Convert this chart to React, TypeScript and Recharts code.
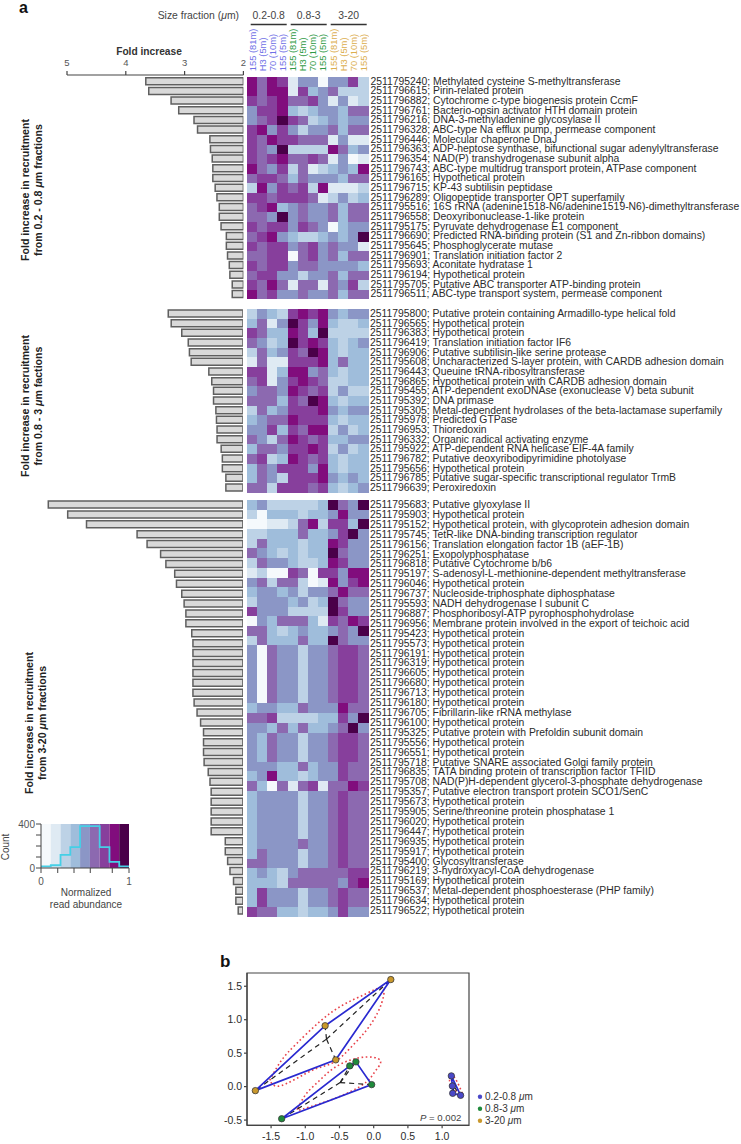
import {
  Bar,
  BarChart,
  Cell,
  ComposedChart,
  Line,
  ReferenceArea,
  Scatter,
  ScatterChart,
  XAxis,
  YAxis,
} from 'recharts'

const PALETTE = ['#f5f9fc', '#dfeaf3', '#bdd2e6', '#9fbddb', '#8b96c6', '#8c69b0', '#873f9c', '#810d7d', '#4a0049']

const SAMPLES = ['155 (81m)', 'H3 (5m)', '70 (10m)', '155 (5m)']
const SAMPLE_COLORS = ['#6f70e6', '#2f9a45', '#dcae4e']

const labelsTop = [
  '2511795240; Methylated cysteine S-methyltransferase',
  '2511796615; Pirin-related protein',
  '2511796882; Cytochrome c-type biogenesis protein CcmF',
  '2511796761; Bacterio-opsin activator HTH domain protein',
  '2511796216; DNA-3-methyladenine glycosylase II',
  '2511796328; ABC-type Na efflux pump, permease component',
  '2511796446; Molecular chaperone DnaJ',
  '2511796363; ADP-heptose synthase, bifunctional sugar adenylyltransferase',
  '2511796354; NAD(P) transhydrogenase subunit alpha',
  '2511796743; ABC-type multidrug transport protein, ATPase component',
  '2511796165; Hypothetical protein',
  '2511796715; KP-43 subtilisin peptidase',
  '2511796289; Oligopeptide transporter OPT superfamily',
  '2511795516; 16S rRNA (adenine1518-N6/adenine1519-N6)-dimethyltransferase',
  '2511796558; Deoxyribonuclease-1-like protein',
  '2511795175; Pyruvate dehydrogenase E1 component',
  '2511796690; Predicted RNA-binding protein (S1 and Zn-ribbon domains)',
  '2511795645; Phosphoglycerate mutase',
  '2511796901; Translation initiation factor 2',
  '2511795693; Aconitate hydratase 1',
  '2511796194; Hypothetical protein',
  '2511795705; Putative ABC transporter ATP-binding protein',
  '2511796511; ABC-type transport system, permease component',
]
const foldTop = [3.66, 3.61, 3.23, 3.1, 2.84, 2.78, 2.57, 2.56, 2.53, 2.52, 2.52, 2.48, 2.45, 2.41, 2.41, 2.38, 2.29, 2.29, 2.27, 2.24, 2.23, 2.19, 2.19]
const heatTop = [
  [7, 5, 7, 6, 1, 4, 4, 0, 4, 4, 6, 2],
  [7, 5, 7, 7, 1, 6, 3, 4, 5, 2, 2, 2],
  [6, 5, 6, 7, 5, 5, 6, 4, 1, 4, 1, 2],
  [4, 6, 6, 7, 3, 2, 3, 4, 4, 3, 5, 5],
  [4, 5, 6, 8, 6, 5, 2, 3, 4, 3, 4, 4],
  [6, 7, 4, 6, 4, 2, 4, 4, 5, 3, 5, 5],
  [6, 5, 7, 6, 6, 5, 5, 5, 1, 4, 1, 1],
  [6, 5, 4, 8, 2, 2, 2, 2, 7, 5, 3, 4],
  [6, 5, 6, 7, 5, 5, 6, 5, 1, 4, 0, 1],
  [7, 5, 4, 6, 2, 5, 1, 2, 3, 4, 3, 7],
  [5, 6, 6, 5, 3, 5, 4, 4, 4, 3, 5, 5],
  [2, 7, 4, 6, 5, 6, 2, 7, 1, 1, 1, 2],
  [6, 6, 5, 6, 6, 6, 5, 1, 2, 4, 2, 3],
  [5, 6, 7, 3, 4, 5, 4, 4, 5, 3, 5, 5],
  [5, 5, 4, 8, 4, 5, 4, 4, 5, 3, 5, 5],
  [6, 5, 6, 6, 4, 6, 5, 4, 0, 3, 4, 4],
  [5, 6, 7, 4, 3, 2, 2, 3, 4, 3, 4, 8],
  [6, 5, 6, 6, 4, 5, 6, 4, 5, 4, 4, 1],
  [5, 5, 6, 6, 0, 5, 6, 4, 5, 3, 5, 5],
  [6, 5, 6, 6, 4, 5, 5, 4, 4, 4, 4, 3],
  [5, 6, 6, 4, 4, 2, 4, 4, 5, 3, 5, 5],
  [6, 5, 7, 5, 1, 5, 5, 1, 5, 4, 6, 2],
  [7, 5, 6, 4, 4, 5, 4, 4, 5, 3, 5, 5],
]

const labelsMiddle = [
  '2511795800; Putative protein containing Armadillo-type helical fold',
  '2511796565; Hypothetical protein',
  '2511796383; Hypothetical protein',
  '2511796419; Translation initiation factor IF6',
  '2511796906; Putative subtilisin-like serine protease',
  '2511795608; Uncharacterized S-layer protein, with CARDB adhesion domain',
  '2511796443; Queuine tRNA-ribosyltransferase',
  '2511796865; Hypothetical protein with CARDB adhesion domain',
  '2511795455; ATP-dependent exoDNAse (exonuclease V) beta subunit',
  '2511795392; DNA primase',
  '2511795305; Metal-dependent hydrolases of the beta-lactamase superfamily',
  '2511795978; Predicted GTPase',
  '2511796953; Thioredoxin',
  '2511796332; Organic radical activating enzyme',
  '2511795922; ATP-dependent RNA helicase EIF-4A family',
  '2511796782; Putative deoxyribodipyrimidine photolyase',
  '2511795656; Hypothetical protein',
  '2511796785; Putative sugar-specific transcriptional regulator TrmB',
  '2511796639; Peroxiredoxin',
]
const foldMiddle = [3.27, 3.22, 3.04, 2.93, 2.91, 2.88, 2.58, 2.53, 2.5, 2.5, 2.46, 2.45, 2.44, 2.44, 2.37, 2.35, 2.35, 2.29, 2.29]
const heatMiddle = [
  [2, 4, 3, 2, 6, 7, 6, 7, 4, 3, 4, 4],
  [3, 5, 1, 4, 8, 6, 4, 7, 3, 2, 2, 3],
  [6, 5, 3, 3, 7, 6, 3, 8, 2, 2, 2, 2],
  [5, 4, 2, 3, 8, 6, 7, 6, 3, 2, 3, 4],
  [2, 5, 3, 4, 6, 5, 8, 7, 3, 2, 3, 3],
  [1, 5, 1, 1, 6, 6, 6, 7, 3, 5, 3, 3],
  [6, 6, 1, 3, 7, 7, 4, 5, 3, 2, 3, 3],
  [5, 6, 1, 4, 6, 7, 6, 5, 2, 2, 3, 3],
  [4, 5, 5, 4, 7, 6, 5, 6, 2, 4, 2, 2],
  [5, 5, 5, 3, 6, 5, 8, 7, 3, 2, 3, 3],
  [2, 5, 3, 4, 6, 6, 6, 7, 4, 3, 4, 4],
  [3, 4, 5, 5, 7, 6, 6, 6, 3, 2, 3, 3],
  [4, 4, 6, 3, 6, 5, 7, 7, 2, 4, 2, 3],
  [5, 4, 2, 5, 7, 6, 5, 6, 3, 3, 4, 4],
  [3, 5, 5, 4, 6, 6, 7, 6, 2, 4, 2, 3],
  [5, 6, 2, 3, 7, 6, 5, 6, 3, 2, 3, 3],
  [3, 5, 4, 6, 6, 6, 4, 7, 3, 2, 3, 3],
  [3, 5, 4, 2, 6, 6, 6, 7, 4, 3, 4, 3],
  [5, 5, 2, 6, 6, 6, 5, 6, 3, 2, 3, 4],
]

const labelsBottom = [
  '2511795683; Putative glyoxylase II',
  '2511795903; Hypothetical protein',
  '2511795152; Hypothetical protein, with glycoprotein adhesion domain',
  '2511795745; TetR-like DNA-binding transcription regulator',
  '2511796156; Translation elongation factor 1B (aEF-1B)',
  '2511796251; Exopolyphosphatase',
  '2511796818; Putative Cytochrome b/b6',
  '2511795197; S-adenosyl-L-methionine-dependent methyltransferase',
  '2511796046; Hypothetical protein',
  '2511796737; Nucleoside-triphosphate diphosphatase',
  '2511795593; NADH dehydrogenase I subunit C',
  '2511796887; Phosphoribosyl-ATP pyrophosphohydrolase',
  '2511796956; Membrane protein involved in the export of teichoic acid',
  '2511795423; Hypothetical protein',
  '2511795573; Hypothetical protein',
  '2511796191; Hypothetical protein',
  '2511796319; Hypothetical protein',
  '2511796605; Hypothetical protein',
  '2511796680; Hypothetical protein',
  '2511796713; Hypothetical protein',
  '2511796180; Hypothetical protein',
  '2511796705; Fibrillarin-like rRNA methylase',
  '2511796100; Hypothetical protein',
  '2511795325; Putative protein with Prefoldin subunit domain',
  '2511795556; Hypothetical protein',
  '2511796551; Hypothetical protein',
  '2511795718; Putative SNARE associated Golgi family protein',
  '2511796835; TATA binding protein of transcription factor TFIID',
  '2511795708; NAD(P)H-dependent glycerol-3-phosphate dehydrogenase',
  '2511795357; Putative electron transport protein SCO1/SenC',
  '2511795673; Hypothetical protein',
  '2511795905; Serine/threonine protein phosphatase 1',
  '2511796020; Hypothetical protein',
  '2511796447; Hypothetical protein',
  '2511796935; Hypothetical protein',
  '2511795917; Hypothetical protein',
  '2511795400; Glycosyltransferase',
  '2511796219; 3-hydroxyacyl-CoA dehydrogenase',
  '2511795169; Hypothetical protein',
  '2511796537; Metal-dependent phosphoesterase (PHP family)',
  '2511796634; Hypothetical protein',
  '2511796522; Hypothetical protein',
]
const foldBottom = [
  5.31, 4.98, 4.66, 3.8, 3.63, 3.4, 3.31, 3.16, 3.13, 3.04, 3.0, 2.97, 2.97, 2.87, 2.85, 2.85, 2.85, 2.85, 2.85, 2.85, 2.83,
  2.78, 2.72, 2.67, 2.67, 2.67, 2.66, 2.59, 2.56, 2.54, 2.54, 2.54, 2.54, 2.54, 2.3, 2.3, 2.26, 2.22, 2.16, 2.12, 2.12, 2.08,
]
const heatBottom = [
  [3, 4, 2, 2, 2, 2, 2, 3, 8, 5, 4, 8],
  [2, 0, 3, 3, 3, 2, 3, 3, 4, 7, 4, 4],
  [0, 0, 1, 1, 2, 5, 7, 2, 6, 6, 3, 8],
  [2, 2, 3, 3, 3, 5, 3, 3, 4, 6, 8, 4],
  [2, 5, 3, 3, 3, 2, 3, 3, 7, 6, 4, 4],
  [5, 4, 3, 2, 3, 2, 3, 3, 8, 5, 4, 4],
  [2, 5, 4, 4, 3, 2, 2, 3, 7, 6, 4, 4],
  [1, 2, 0, 0, 6, 5, 0, 6, 6, 4, 7, 7],
  [4, 5, 2, 5, 5, 2, 0, 1, 7, 4, 6, 7],
  [3, 4, 4, 3, 4, 2, 4, 4, 5, 7, 5, 5],
  [2, 4, 4, 4, 3, 4, 2, 3, 8, 5, 4, 4],
  [6, 4, 4, 4, 2, 2, 2, 2, 8, 6, 4, 4],
  [0, 4, 3, 5, 5, 5, 3, 1, 6, 5, 7, 6],
  [5, 5, 3, 2, 3, 4, 3, 3, 4, 5, 4, 8],
  [2, 5, 3, 3, 3, 5, 3, 3, 8, 5, 4, 4],
  [4, 0, 5, 4, 4, 2, 4, 4, 5, 6, 6, 5],
  [4, 0, 5, 4, 4, 2, 4, 4, 5, 6, 6, 5],
  [4, 0, 5, 4, 4, 2, 4, 4, 5, 6, 6, 5],
  [4, 0, 5, 4, 4, 2, 4, 4, 5, 6, 6, 5],
  [4, 0, 5, 4, 4, 2, 4, 4, 5, 6, 6, 5],
  [4, 0, 5, 4, 4, 2, 4, 4, 5, 6, 6, 5],
  [3, 4, 4, 3, 3, 5, 4, 4, 4, 7, 5, 5],
  [5, 5, 6, 2, 2, 2, 2, 3, 3, 6, 4, 8],
  [4, 4, 3, 5, 3, 5, 3, 3, 4, 5, 8, 4],
  [4, 3, 5, 4, 4, 2, 4, 4, 5, 6, 6, 5],
  [4, 3, 5, 4, 4, 2, 4, 4, 5, 6, 6, 5],
  [4, 3, 5, 4, 4, 2, 4, 4, 5, 6, 6, 5],
  [4, 4, 4, 3, 3, 5, 3, 4, 4, 6, 5, 5],
  [3, 4, 7, 3, 3, 2, 3, 4, 4, 6, 5, 5],
  [5, 3, 0, 5, 1, 5, 6, 1, 5, 5, 7, 6],
  [3, 4, 4, 4, 4, 2, 4, 4, 5, 6, 5, 5],
  [3, 4, 4, 4, 4, 2, 4, 4, 5, 6, 5, 5],
  [3, 4, 4, 4, 4, 2, 4, 4, 5, 6, 5, 5],
  [3, 4, 4, 4, 4, 2, 4, 4, 5, 6, 5, 5],
  [3, 4, 4, 4, 4, 2, 4, 4, 5, 6, 5, 5],
  [3, 4, 4, 4, 4, 5, 4, 4, 5, 6, 5, 5],
  [3, 5, 4, 4, 4, 2, 4, 4, 5, 6, 5, 5],
  [5, 5, 4, 4, 4, 2, 4, 4, 5, 6, 5, 5],
  [3, 4, 3, 2, 4, 5, 5, 5, 5, 5, 6, 6],
  [3, 3, 3, 2, 5, 5, 5, 5, 5, 4, 6, 7],
  [3, 6, 4, 4, 4, 2, 4, 4, 5, 6, 5, 5],
  [3, 6, 4, 4, 4, 2, 4, 4, 5, 6, 5, 5],
  [6, 5, 5, 3, 3, 2, 3, 3, 4, 6, 4, 4],
]

// inset histogram
const binEdges = [0, 0.111, 0.222, 0.333, 0.444, 0.556, 0.667, 0.778, 0.889, 1]
const binCounts = [15, 25, 120, 190, 380, 380, 190, 55, 15, 15]
const histTicksX = [0, 0.19, 0.375, 0.56, 0.81, 1]
const histTicksY = [0, 100, 200, 300, 400]

// panel b ordination, in axis units
const goldPoints = [{ x: 0.25, y: 1.6 }, { x: -0.71, y: 0.91 }, { x: -0.555, y: 0.4 }, { x: -1.73, y: -0.06 }]
const greenPoints = [{ x: -0.26, y: 0.37 }, { x: -0.35, y: 0.31 }, { x: -0.03, y: 0.03 }, { x: -1.345, y: -0.48 }]
const bluePoints = [{ x: 1.135, y: 0.16 }, { x: 1.15, y: 0.01 }, { x: 1.155, y: -0.1 }, { x: 1.27, y: -0.13 }]
const goldCentroid = { x: -0.69, y: 0.71 }
const greenCentroid = { x: -0.49, y: 0.06 }
const blueCentroid = { x: 1.175, y: -0.005 }
const goldHull = [3, 1, 0, 2, 3].map((i) => goldPoints[i])
const greenHull = [3, 1, 0, 2, 3].map((i) => greenPoints[i])
const blueHull = [0, 3, 2, 1, 0].map((i) => bluePoints[i])
const goldEllipse = [
  { x: -1.52, y: 0.095 }, { x: -1.35, y: 0.39 }, { x: -1.13, y: 0.64 }, { x: -0.79, y: 0.97 }, { x: -0.45, y: 1.22 },
  { x: -0.107, y: 1.39 }, { x: 0.11, y: 1.48 }, { x: 0.146, y: 1.365 }, { x: 0.063, y: 1.116 }, { x: -0.107, y: 0.842 },
  { x: -0.327, y: 0.593 }, { x: -0.57, y: 0.369 }, { x: -0.838, y: 0.269 }, { x: -1.13, y: 0.12 }, { x: -1.4, y: 0.005 },
  { x: -1.52, y: 0.095 },
]
const greenEllipse = [
  { x: -1.106, y: -0.319 }, { x: -0.984, y: -0.105 }, { x: -0.789, y: 0.095 }, { x: -0.595, y: 0.269 }, { x: -0.351, y: 0.394 },
  { x: -0.107, y: 0.443 }, { x: 0.063, y: 0.419 }, { x: 0.097, y: 0.344 }, { x: 0.015, y: 0.219 }, { x: -0.107, y: 0.07 },
  { x: -0.351, y: -0.08 }, { x: -0.643, y: -0.204 }, { x: -0.936, y: -0.304 }, { x: -1.106, y: -0.354 }, { x: -1.106, y: -0.319 },
]
const blueEllipse = [
  { x: 1.135, y: 0.195 }, { x: 1.22, y: 0.07 }, { x: 1.3, y: -0.13 }, { x: 1.24, y: -0.105 }, { x: 1.135, y: 0 }, { x: 1.11, y: 0.12 },
  { x: 1.135, y: 0.195 },
]

const FONT = '"Liberation Sans", Arial, sans-serif'
const TEXT = '#2b2b2b'
const AXIS = '#444'

const BAR_BASE_X = 243
const PX_PER_FOLD = 58.8
const LABEL_SIZE = 10.4
const BAR_MARGIN_LEFT = 10

function GeneTick({ x, y, payload }: any) {
  return (
    <text x={x} y={y - 0.6} dy="0.35em" fontSize={LABEL_SIZE} fill={TEXT}>
      {payload.value}
    </text>
  )
}

function FoldBars({ folds, labels, top, bottom, maxFold, axis, padTop = 0 }: any) {
  const data = folds.map((fold: number, i: number) => ({ label: labels[i], fold }))
  const left = BAR_BASE_X - (maxFold - 2) * PX_PER_FOLD - BAR_MARGIN_LEFT
  const axisHeight = axis ? 30 : 0
  return (
    <div style={{ position: 'absolute', left, top: top - axisHeight }}>
      <BarChart
        width={741 - left}
        height={bottom - top + axisHeight}
        data={data}
        layout="vertical"
        barCategoryGap={0}
        margin={{ top: 0, right: 0, bottom: 0, left: BAR_MARGIN_LEFT }}
      >
        <XAxis
          type="number"
          domain={[2, maxFold]}
          reversed
          hide={!axis}
          orientation="top"
          ticks={[5, 4, 3, 2]}
          interval={0}
          height={axisHeight}
          tickSize={4}
          allowDataOverflow
          stroke={AXIS}
          strokeWidth={1.2}
          tick={{ fontSize: 9.5, fill: '#555' }}
          tickMargin={5}
        />
        <YAxis
          type="category"
          dataKey="label"
          orientation="right"
          width={741 - BAR_BASE_X}
          axisLine={false}
          tickLine={false}
          tickSize={0}
          tickMargin={127}
          interval={0}
          padding={{ top: padTop, bottom: 0 }}
          tick={<GeneTick />}
        />
        <Bar dataKey="fold" barSize={7} fill="#d9d9d9" stroke="#5f5f5f" strokeWidth={1.5} isAnimationActive={false} />
      </BarChart>
    </div>
  )
}

const HEADER_HEIGHT = 50

function SampleTick({ x, payload, index }: any) {
  const i = index ?? payload.index
  const label = SAMPLES[i % 4]
  const color = SAMPLE_COLORS[Math.floor(i / 4)]
  return (
    <text transform={`translate(${x + 3.5},${HEADER_HEIGHT - 5.7}) rotate(-90)`} fontSize={9.4} fill={color}>
      {label}
    </text>
  )
}

const HEAT_LEFT = 247
const HEAT_WIDTH = 121.6
const COLUMNS = [0, 1, 2, 3, 4, 5, 6, 7, 8, 9, 10, 11]

function HeatPanel({ grid, top, bottom, header }: any) {
  const data = grid.map((_: number[], row: number) => {
    const entry: Record<string, number> = { row }
    COLUMNS.forEach((c) => (entry[`c${c}`] = 1))
    return entry
  })
  const headerHeight = header ? HEADER_HEIGHT : 0
  return (
    <div style={{ position: 'absolute', left: HEAT_LEFT, top: top - headerHeight }}>
      <BarChart
        width={HEAT_WIDTH}
        height={bottom - top + headerHeight}
        data={data}
        layout="vertical"
        barCategoryGap={0}
        margin={{ top: 0, right: 0, bottom: 0, left: 0 }}
      >
        <XAxis
          type="number"
          domain={[0, 12]}
          orientation="top"
          hide={!header}
          height={headerHeight}
          ticks={COLUMNS.map((c) => c + 0.5)}
          interval={0}
          axisLine={false}
          tickLine={false}
          tick={<SampleTick />}
        />
        <YAxis type="category" dataKey="row" hide />
        {COLUMNS.map((c) => (
          <Bar key={c} dataKey={`c${c}`} stackId="heat" isAnimationActive={false}>
            {grid.map((levels: number[], row: number) => (
              <Cell key={row} fill={PALETTE[levels[c]]} shapeRendering="crispEdges" />
            ))}
          </Bar>
        ))}
      </BarChart>
    </div>
  )
}

function Histogram() {
  const hist = binEdges.map((x, i) => ({ x, count: binCounts[i] }))
  return (
    <div style={{ position: 'absolute', left: 11, top: 815.5 }}>
      <ComposedChart width={130} height={74} data={hist} margin={{ top: 8, right: 12, bottom: 0, left: 0 }}>
        <XAxis
          dataKey="x"
          type="number"
          domain={[0, 1]}
          ticks={histTicksX}
          height={22}
          tickSize={5}
          stroke={AXIS}
          tickMargin={5}
          interval={0}
          tick={{ fontSize: 10, fill: '#555' }}
          tickFormatter={(v: number) => (v === 0 || v === 1 ? String(v) : '')}
        />
        <YAxis
          type="number"
          domain={[0, 400]}
          ticks={histTicksY}
          width={30}
          tickSize={5}
          stroke={AXIS}
          tickMargin={1}
          interval={0}
          tick={{ fontSize: 10, fill: '#555' }}
          tickFormatter={(v: number) => (v === 0 || v === 400 ? String(v) : '')}
        />
        {PALETTE.map((fill, i) => (
          <ReferenceArea key={fill} x1={binEdges[i]} x2={binEdges[i + 1]} y1={0} y2={400} fill={fill} fillOpacity={1} stroke="none" />
        ))}
        <Line dataKey="count" type="stepAfter" stroke="#45cfe6" strokeWidth={1.8} dot={false} isAnimationActive={false} />
      </ComposedChart>
    </div>
  )
}

function NoDot() {
  return <g />
}

function dotShape(fill: string) {
  return ({ cx, cy }: any) => <circle cx={cx} cy={cy} r={3.2} fill={fill} stroke="#3a3a3a" strokeWidth={0.8} />
}

function Ordination() {
  const line = (stroke: string, strokeWidth: number, strokeDasharray?: string) => ({ stroke, strokeWidth, strokeDasharray })
  const hullLine = line('#2a2ad0', 1.7)
  const ellipseLine = line('#e8424a', 1.6, '1.6 2.6')
  const spokeLine = line('#222', 1.2, '5 4')
  const ordinationGroups = [
    { ellipse: goldEllipse, hull: goldHull, center: goldCentroid, points: goldPoints, fill: '#c9982c' },
    { ellipse: greenEllipse, hull: greenHull, center: greenCentroid, points: greenPoints, fill: '#1f8a3c' },
    { ellipse: blueEllipse, hull: blueHull, center: blueCentroid, points: bluePoints, fill: '#4a48c8' },
  ]
  return (
    <div style={{ position: 'absolute', left: 207.3, top: 962.7 }}>
      <ScatterChart width={272} height={181.3} margin={{ top: 10, right: 10, bottom: 0, left: 0 }}>
        <XAxis
          dataKey="x"
          type="number"
          domain={[-1.852, 1.393]}
          ticks={[-1.5, -1, -0.5, 0, 0.5, 1]}
          height={19}
          tickSize={3}
          tickMargin={4}
          interval={0}
          stroke={AXIS}
          strokeWidth={1.2}
          allowDataOverflow
          tick={{ fontSize: 10.5, fill: TEXT }}
          tickFormatter={(v: number) => v.toFixed(1)}
        />
        <YAxis
          dataKey="y"
          type="number"
          domain={[-0.578, 1.698]}
          ticks={[-0.5, 0, 0.5, 1, 1.5]}
          width={40}
          tickSize={3}
          interval={0}
          stroke={AXIS}
          strokeWidth={1.2}
          allowDataOverflow
          tick={{ fontSize: 10.5, fill: TEXT }}
          tickFormatter={(v: number) => v.toFixed(1)}
        />
        <ReferenceArea x1={-1.852} x2={1.393} y1={-0.578} y2={1.698} fill="none" stroke={AXIS} strokeWidth={1.2} />
        {ordinationGroups.map((g) => (
          <Scatter key={`e${g.fill}`} data={g.ellipse} line={ellipseLine} lineJointType="natural" shape={<NoDot />} isAnimationActive={false} />
        ))}
        {ordinationGroups.flatMap((g) =>
          g.points.map((p, i) => (
            <Scatter key={`s${g.fill}${i}`} data={[g.center, p]} line={spokeLine} shape={<NoDot />} isAnimationActive={false} />
          )),
        )}
        {ordinationGroups.map((g) => (
          <Scatter key={`h${g.fill}`} data={g.hull} line={hullLine} shape={<NoDot />} isAnimationActive={false} />
        ))}
        {ordinationGroups.map((g) => (
          <Scatter key={`p${g.fill}`} data={g.points} shape={dotShape(g.fill)} isAnimationActive={false} />
        ))}
      </ScatterChart>
    </div>
  )
}

function RotatedTitle({ x, y, lines }: any) {
  return (
    <text transform={`translate(${x},${y}) rotate(-90)`} textAnchor="middle" fontSize={10.6} fontWeight="bold" fill="#222">
      <tspan x={0} dy={0}>{lines[0]}</tspan>
      <tspan x={0} dy={13}>
        {lines[1]}
        <tspan fontStyle="italic">μ</tspan>
        {lines[2]}
      </tspan>
    </text>
  )
}

const fractionHeads = [
  { name: '0.2-0.8', x1: 250.7, x2: 286.7 },
  { name: '0.8-3', x1: 290.7, x2: 326.7 },
  { name: '3-20', x1: 330.7, x2: 366.7 },
]
const orderLegend = [
  { label: '0.2-0.8 ', fill: '#4a48c8', y: 1096.7 },
  { label: '0.8-3 ', fill: '#1f8a3c', y: 1108.7 },
  { label: '3-20 ', fill: '#c9982c', y: 1120.7 },
]

function Annotations() {
  return (
    <svg width={741} height={1144} style={{ position: 'absolute', left: 0, top: 0, pointerEvents: 'none' }}>
      <text x={19} y={13} fontSize={16} fontWeight="bold" fill="#111">a</text>
      <text x={220} y={967} fontSize={17} fontWeight="bold" fill="#111">b</text>
      <text x={239} y={19} textAnchor="end" fontSize={10.4} fill="#444">
        Size fraction (<tspan fontStyle="italic">μ</tspan>m)
      </text>
      {fractionHeads.map((h) => (
        <g key={h.name}>
          <text x={(h.x1 + h.x2) / 2} y={19} textAnchor="middle" fontSize={10.4} fill="#444">{h.name}</text>
          <line x1={h.x1} x2={h.x2} y1={24.5} y2={24.5} stroke="#333" strokeWidth={1.3} />
        </g>
      ))}
      <text x={149} y={55} textAnchor="middle" fontSize={10.2} fontWeight="bold" fill="#333">Fold increase</text>
      <RotatedTitle x={28.5} y={190} lines={['Fold increase in recruitment', 'from 0.2 - 0.8 ', 'm fractions']} />
      <RotatedTitle x={28.5} y={406} lines={['Fold increase in recruitment', 'from 0.8 - 3 ', 'm factions']} />
      <RotatedTitle x={33} y={723} lines={['Fold increase in recruitment', 'from 3-20 ', 'm fractions']} />
      <text transform="translate(9,847) rotate(-90)" textAnchor="middle" fontSize={10} fill="#444">Count</text>
      <text x={86} y={896} textAnchor="middle" fontSize={10} fill="#444">Normalized</text>
      <text x={86} y={908} textAnchor="middle" fontSize={10} fill="#444">read abundance</text>
      <text x={420} y={1121} fontSize={9.6} fill="#444">
        <tspan fontStyle="italic">P</tspan> = 0.002
      </text>
      {orderLegend.map((d) => (
        <g key={d.label}>
          <circle cx={480} cy={d.y} r={2.2} fill={d.fill} />
          <text x={485} y={d.y + 3.5} fontSize={10} fill="#333">
            {d.label}
            <tspan fontStyle="italic">μ</tspan>m
          </text>
        </g>
      ))}
    </svg>
  )
}

export default function App() {
  return (
    <div style={{ position: 'absolute', left: 0, top: 0, width: 741, height: 1144, background: '#fff', fontFamily: FONT, overflow: 'hidden' }}>
      <FoldBars folds={foldTop} labels={labelsTop} top={75} bottom={299.3} maxFold={5} axis padTop={1.7} />
      <FoldBars folds={foldMiddle} labels={labelsMiddle} top={309} bottom={492.7} maxFold={5.4} />
      <FoldBars folds={foldBottom} labels={labelsBottom} top={500} bottom={916} maxFold={5.4} />
      <HeatPanel grid={heatTop} top={76.7} bottom={299.3} header />
      <HeatPanel grid={heatMiddle} top={309} bottom={492.7} />
      <HeatPanel grid={heatBottom} top={500} bottom={916.7} />
      <Histogram />
      <Ordination />
      <Annotations />
    </div>
  )
}
